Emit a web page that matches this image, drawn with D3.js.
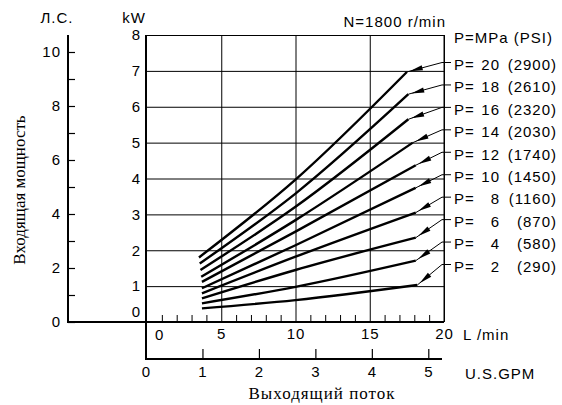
<!DOCTYPE html>
<html>
<head>
<meta charset="utf-8">
<script src="https://cdn.jsdelivr.net/npm/d3@7"></script>
<style>
body { margin: 0; background: #fff; }
svg text { font-family: "Liberation Sans", Arial, sans-serif; font-size: 15px; letter-spacing: 1px; fill: #000; }
svg text.serif { font-family: "Liberation Serif", "Times New Roman", serif; font-size: 17px; }
.domain { display: none; }
</style>
</head>
<body>
<div id="chart"></div>
<script>
// pressure curves (MPa / PSI)
var pressures = [20, 18, 16, 14, 12, 10, 8, 6, 4, 2];
var psiValues = [2900, 2610, 2320, 2030, 1740, 1450, 1160, 870, 580, 290];

// flow (L/min) and input power (kW) for each curve: start, 10 L/min, end
var curveFlow = [
    [3.5, 10, 17.5],
    [3.55, 10, 17.6],
    [3.6, 10, 17.6],
    [3.65, 10, 17.9],
    [3.7, 10, 18.1],
    [3.7, 10, 18.1],
    [3.7, 10, 18.1],
    [3.7, 10, 18.1],
    [3.7, 10, 18.1],
    [3.7, 10, 18.2]
];
var curvePower = [
    [1.80, 3.97, 6.97],
    [1.63, 3.58, 6.35],
    [1.45, 3.21, 5.65],
    [1.26, 2.84, 5.00],
    [1.12, 2.52, 4.37],
    [0.94, 2.14, 3.74],
    [0.80, 1.82, 3.05],
    [0.66, 1.45, 2.35],
    [0.52, 0.98, 1.71],
    [0.38, 0.61, 1.03]
];

// tick values
var kwTicks = [1, 2, 3, 4, 5, 6, 7, 8];
var hpTicks = [0, 1, 2, 3, 4, 5, 6, 7, 8, 9, 10];
var hpLabels = [0, 2, 4, 6, 8, 10];
var lpmGrid = [5, 10, 15, 20];
var lpmLabels = [5, 10, 15, 20];
var lpmMinor = [1, 2, 3, 4, 6, 7, 8, 9, 11, 12, 13, 14, 16, 17, 18, 19];
var gpmTicks = [1, 2, 3, 4, 5];
var gpmLabels = [0, 1, 2, 3, 4, 5];

var width = 562, height = 405;

var svg = d3.select("#chart").append("svg")
    .attr("width", width)
    .attr("height", height);

// scales
var x = d3.scaleLinear().domain([0, 20]).range([147, 444]);
var y = d3.scaleLinear().domain([0, 8]).range([322, 35]);
var yHp = d3.scaleLinear().domain([0, 10]).range([322, 52]);
var xGpm = d3.scaleLinear().domain([0, 5]).range([146, 428.3]);
var labelY = d3.scaleLinear().domain([0, pressures.length - 1]).range([64.5, 266.5]);

// grid: horizontal kW lines
svg.append("g")
    .attr("transform", "translate(146,0)")
    .call(d3.axisRight(y).tickValues(kwTicks).tickSize(x(20) - 146).tickFormat(""))
    .selectAll("line").attr("stroke", "#000").attr("stroke-width", 1);

// grid: vertical L/min lines
svg.append("g")
    .attr("transform", "translate(0," + y(8) + ")")
    .call(d3.axisBottom(x).tickValues(lpmGrid).tickSize(y(0) - y(8)).tickFormat(""))
    .selectAll("line").attr("stroke", "#000").attr("stroke-width", 1);

// minor L/min ticks on the baseline
svg.append("g")
    .attr("transform", "translate(0," + y(0) + ")")
    .call(d3.axisTop(x).tickValues(lpmMinor).tickSize(7).tickFormat(""))
    .selectAll("line").attr("stroke", "#000").attr("stroke-width", 1);

// L/min labels
svg.append("g")
    .attr("transform", "translate(0," + y(0) + ")")
    .call(d3.axisBottom(x).tickValues(lpmLabels).tickSize(0).tickPadding(6));
svg.append("text").attr("x", x(0) + 8).attr("y", 335).attr("dy", "0.35em").text("0");
svg.append("text").attr("x", 463).attr("y", 335).attr("dy", "0.35em").text("L /min");

// kW labels
svg.append("g")
    .attr("transform", "translate(146,0)")
    .call(d3.axisLeft(y).tickValues(kwTicks).tickSize(0).tickPadding(5));
svg.append("text").attr("x", 141).attr("y", y(0) - 10).attr("dy", "0.35em")
    .attr("text-anchor", "end").text("0");
svg.append("text").attr("x", 134).attr("y", 18).attr("dy", "0.35em")
    .attr("text-anchor", "middle").text("kW");

// HP axis: ticks on the right, labels on the left
svg.append("g")
    .attr("transform", "translate(68,0)")
    .call(d3.axisRight(yHp).tickValues(hpTicks).tickSize(7).tickFormat(""))
    .selectAll("line").attr("stroke", "#000").attr("stroke-width", 1.2);
svg.append("g")
    .attr("transform", "translate(68,0)")
    .call(d3.axisLeft(yHp).tickValues(hpLabels).tickSize(0).tickPadding(7));
svg.append("text").attr("x", 57).attr("y", 18).attr("dy", "0.35em")
    .attr("text-anchor", "middle").text("Л.С.");

// GPM axis
svg.append("g")
    .attr("transform", "translate(0,359)")
    .call(d3.axisTop(xGpm).tickValues(gpmTicks).tickSize(10).tickFormat(""))
    .selectAll("line").attr("stroke", "#000").attr("stroke-width", 1.2);
svg.append("g")
    .attr("transform", "translate(0,359)")
    .call(d3.axisBottom(xGpm).tickValues(gpmLabels).tickSize(0).tickPadding(7)
        .tickFormat(d3.format("d")));
svg.append("text").attr("x", 465).attr("y", 374).attr("dy", "0.35em").text("U.S.GPM");

// heavy axis lines
var axisStroke = 2;
svg.append("line").attr("x1", 68).attr("x2", 68).attr("y1", 35).attr("y2", y(0))
    .attr("stroke", "#000").attr("stroke-width", axisStroke);
svg.append("line").attr("x1", 146).attr("x2", 146).attr("y1", y(8)).attr("y2", 359)
    .attr("stroke", "#000").attr("stroke-width", axisStroke);
svg.append("line").attr("x1", 67).attr("x2", x(20)).attr("y1", y(0)).attr("y2", y(0))
    .attr("stroke", "#000").attr("stroke-width", axisStroke);
svg.append("line").attr("x1", 145).attr("x2", 442).attr("y1", 359).attr("y2", 359)
    .attr("stroke", "#000").attr("stroke-width", axisStroke);
// right border
svg.append("line").attr("x1", x(20)).attr("x2", x(20)).attr("y1", y(8)).attr("y2", y(0))
    .attr("stroke", "#000").attr("stroke-width", 1);

// titles
svg.append("text").attr("x", 446).attr("y", 27).attr("text-anchor", "end").text("N=1800 r/min");
svg.append("text").attr("x", 454).attr("y", 38).attr("dy", "0.35em").text("P=MPa (PSI)");

svg.append("text").attr("class", "serif")
    .attr("x", 322).attr("y", 399).attr("text-anchor", "middle").text("Выходящий поток");
svg.append("text").attr("class", "serif")
    .style("letter-spacing", "0px")
    .attr("transform", "translate(25,190) rotate(-90)")
    .attr("text-anchor", "middle").text("Входящая мощность");

// curves
var line = d3.line()
    .x(function(d) { return x(d[0]); })
    .y(function(d) { return y(d[1]); })
    .curve(d3.curveMonotoneX);

pressures.forEach(function(p, i) {
    var pts = curveFlow[i].map(function(f, j) { return [f, curvePower[i][j]]; });
    svg.append("path")
        .attr("d", line(pts))
        .attr("fill", "none")
        .attr("stroke", "#000")
        .attr("stroke-width", 2.4);

    // leader with arrow from label to curve end
    var end = pts[pts.length - 1];
    var ex = x(end[0]), ey = y(end[1]);
    var ly = labelY(i);
    var elbowX = 442, elbowY = ly - 2;
    svg.append("polyline")
        .attr("points", [[ex, ey], [elbowX, elbowY], [451, elbowY]].join(" "))
        .attr("fill", "none")
        .attr("stroke", "#000")
        .attr("stroke-width", 1);

    var ang = Math.atan2(elbowY - ey, elbowX - ex);
    var tipX = ex + Math.cos(ang) * 3, tipY = ey + Math.sin(ang) * 3;
    var len = 13, half = 2.6;
    var bx = tipX + Math.cos(ang) * len, by = tipY + Math.sin(ang) * len;
    var px = -Math.sin(ang) * half, py = Math.cos(ang) * half;
    svg.append("path")
        .attr("d", "M" + tipX + "," + tipY + "L" + (bx + px) + "," + (by + py) +
            "L" + (bx - px) + "," + (by - py) + "Z")
        .attr("fill", "#000");

    // label: "P=", MPa value, (PSI)
    svg.append("text").attr("x", 454).attr("y", ly).attr("dy", "0.35em").text("P=");
    svg.append("text").attr("x", 500).attr("y", ly).attr("dy", "0.35em")
        .attr("text-anchor", "end").text(p);
    svg.append("text").attr("x", 557).attr("y", ly).attr("dy", "0.35em")
        .attr("text-anchor", "end").text("(" + psiValues[i] + ")");
});
</script>
</body>
</html>
